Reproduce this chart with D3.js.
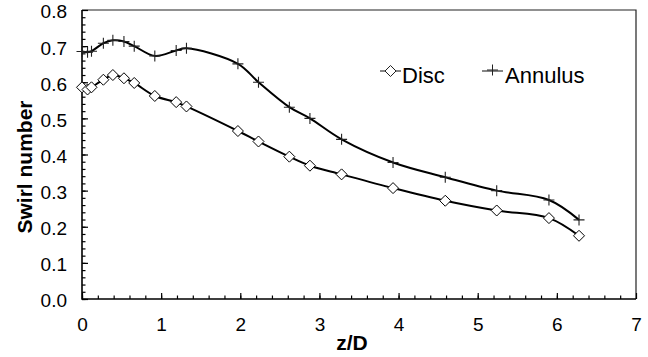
<!DOCTYPE html>
<html>
<head>
<meta charset="utf-8">
<script src="https://cdnjs.cloudflare.com/ajax/libs/d3/7.8.5/d3.min.js"></script>
<style>
  body { margin: 0; background: #fff; }
  text { font-family: "Liberation Sans", Arial, Helvetica, sans-serif; fill: #000; }
</style>
</head>
<body>
<div id="chart"></div>
<script>
// values
var zD = [0, 0.07, 0.12, 0.27, 0.39, 0.53, 0.66, 0.92, 1.19, 1.32, 1.97, 2.23, 2.62, 2.88, 3.28, 3.93, 4.59, 5.24, 5.90, 6.28];
var disc = [0.586, 0.580, 0.586, 0.607, 0.620, 0.611, 0.598, 0.562, 0.545, 0.533, 0.465, 0.436, 0.394, 0.369, 0.345, 0.307, 0.272, 0.245, 0.224, 0.175];
var annulus = [0.685, 0.683, 0.686, 0.708, 0.716, 0.713, 0.700, 0.673, 0.688, 0.694, 0.651, 0.600, 0.531, 0.500, 0.442, 0.378, 0.337, 0.300, 0.274, 0.219];
var xTicks = [0, 1, 2, 3, 4, 5, 6, 7];
var yTicks = [0, 0.1, 0.2, 0.3, 0.4, 0.5, 0.6, 0.7, 0.8];
var seriesNames = ["Disc", "Annulus"];

var W = 648, H = 357;
// plot box (don't call it "top", that's window.top)
var pLeft = 82, pRight = 636, pTop = 10, pBottom = 299;

const svg = d3.select("#chart").append("svg")
  .attr("width", W)
  .attr("height", H);

var x = d3.scaleLinear().domain([0, 7]).range([pLeft, pRight]);
var y = d3.scaleLinear().domain([0, 0.8]).range([pBottom, pTop]);

// frame (top + right)
svg.append("path")
  .attr("d", "M" + pLeft + "," + pTop + "H" + pRight + "V" + pBottom)
  .attr("fill", "none")
  .attr("stroke", "#222")
  .attr("stroke-width", 1.2);

// minor ticks, pointing inside
var xMinor = d3.range(0, 35).map(function (i) { return i * 0.2; });
var yMinor = d3.range(0, 40).map(function (i) { return i * 0.02; });

svg.append("g")
  .attr("transform", "translate(0," + pBottom + ")")
  .call(d3.axisTop(x).tickValues(xMinor).tickSize(3.5).tickFormat(""))
  .call(function (g) { g.select(".domain").remove(); })
  .selectAll("line").attr("stroke-width", 1.2);

svg.append("g")
  .attr("transform", "translate(" + pLeft + ",0)")
  .call(d3.axisRight(y).tickValues(yMinor).tickSize(3.5).tickFormat(""))
  .call(function (g) { g.select(".domain").remove(); })
  .selectAll("line").attr("stroke-width", 1.2);

// major ticks + labels
var xAxis = svg.append("g")
  .attr("transform", "translate(0," + pBottom + ")")
  .call(d3.axisTop(x).tickValues(xTicks).tickSize(6).tickFormat(d3.format("d")));
xAxis.select(".domain").remove();
xAxis.selectAll("line").attr("stroke-width", 1.2);
xAxis.selectAll("text")
  .attr("y", 32)
  .attr("dy", 0)
  .style("font-size", "19px");

var yAxis = svg.append("g")
  .attr("transform", "translate(" + pLeft + ",0)")
  .call(d3.axisRight(y).tickValues(yTicks).tickSize(6).tickFormat(d3.format(".1f")));
yAxis.select(".domain").remove();
yAxis.selectAll("line").attr("stroke-width", 1.2);
yAxis.selectAll("text")
  .attr("x", -15)
  .attr("dy", "0.42em")
  .attr("text-anchor", "end")
  .style("font-size", "19px");

// axis lines
svg.append("path")
  .attr("d", "M" + pLeft + "," + pTop + "V" + pBottom + "H" + pRight)
  .attr("fill", "none")
  .attr("stroke", "#000")
  .attr("stroke-width", 1.6);

// axis titles
svg.append("text")
  .attr("x", 352)
  .attr("y", 350)
  .attr("text-anchor", "middle")
  .style("font-size", "21px")
  .style("font-weight", "bold")
  .text("z/D");

svg.append("text")
  .attr("transform", "translate(32,167) rotate(-90)")
  .attr("text-anchor", "middle")
  .style("font-size", "21px")
  .style("font-weight", "bold")
  .text("Swirl number");

// smoothed lines
var line = d3.line()
  .x(function (d) { return x(d[0]); })
  .y(function (d) { return y(d[1]); })
  .curve(d3.curveCatmullRom.alpha(0.5));

var discPts = zD.map(function (z, i) { return [z, disc[i]]; });
var annPts = zD.map(function (z, i) { return [z, annulus[i]]; });

[annPts, discPts].forEach(function (pts) {
  svg.append("path")
    .datum(pts)
    .attr("d", line)
    .attr("fill", "none")
    .attr("stroke", "#000")
    .attr("stroke-width", 2);
});

var diamond = "M0,-5.5L5.5,0L0,5.5L-5.5,0Z";
var cross = "M-5.5,0H5.5M0,-5.5V5.5";

// markers
svg.append("g").selectAll("path").data(annPts).enter().append("path")
  .attr("d", cross)
  .attr("transform", function (d) { return "translate(" + x(d[0]) + "," + y(d[1]) + ")"; })
  .attr("stroke", "#222")
  .attr("stroke-width", 1.1)
  .attr("fill", "none");

svg.append("g").selectAll("path").data(discPts).enter().append("path")
  .attr("d", diamond)
  .attr("transform", function (d) { return "translate(" + x(d[0]) + "," + y(d[1]) + ")"; })
  .attr("stroke", "#000")
  .attr("stroke-width", 1)
  .attr("fill", "#fff");

// legend
var legend = svg.append("g");
var legX = [380, 482];
seriesNames.forEach(function (name, i) {
  var g = legend.append("g").attr("transform", "translate(" + legX[i] + ",71)");
  g.append("line")
    .attr("x1", 0).attr("x2", 21)
    .attr("stroke", "#222")
    .attr("stroke-width", 1.1);
  g.append("path")
    .attr("d", i === 0 ? diamond : cross)
    .attr("transform", "translate(10.5," + (i === 0 ? 0 : -1) + ")")
    .attr("stroke", "#222")
    .attr("stroke-width", 1)
    .attr("fill", i === 0 ? "#fff" : "none");
  g.append("text")
    .attr("x", i === 0 ? 22 : 23)
    .attr("y", 12)
    .style("font-size", "22px")
    .text(name);
});
</script>
</body>
</html>
